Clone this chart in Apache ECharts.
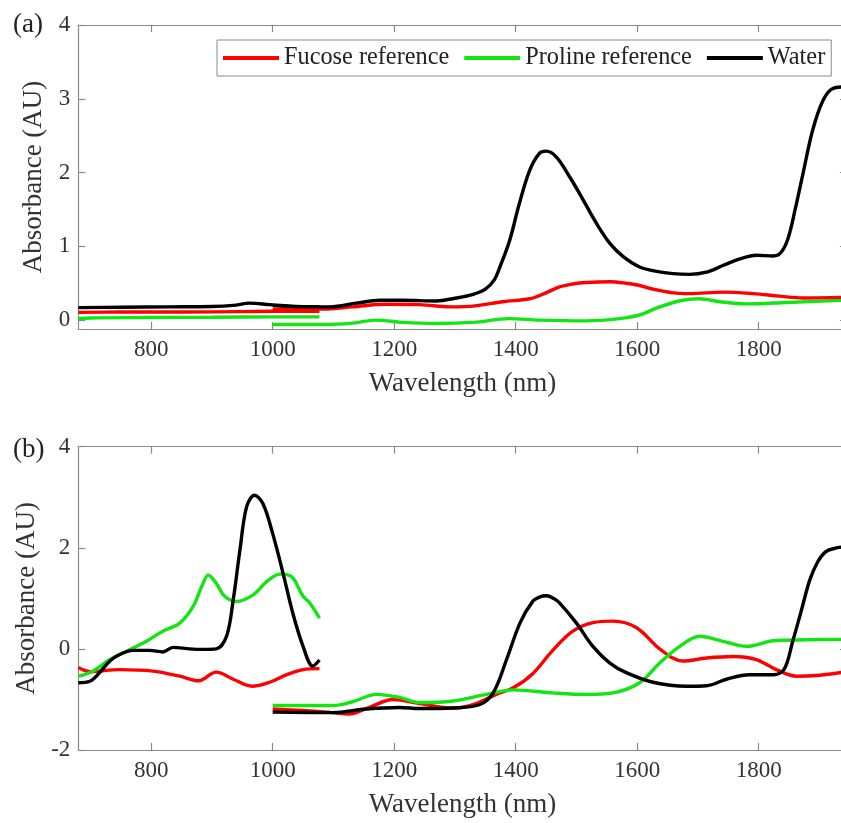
<!DOCTYPE html>
<html>
<head>
<meta charset="utf-8">
<script src="https://cdn.jsdelivr.net/npm/echarts@6/dist/echarts.min.js"></script>
<style>
html,body{margin:0;padding:0;background:#fff;}
#chart{width:841px;height:823px;}
</style>
</head>
<body>
<div id="chart"></div>
<script>
// ---------- Data ----------
const seriesNames = ['Fucose reference', 'Proline reference', 'Water'];
const xTicks = [800, 1000, 1200, 1400, 1600, 1800];
const yTicksA = [0, 1, 2, 3, 4];
const yTicksB = [-2, 0, 2, 4];

// Panel (a), first detector segment (680-1080 nm)
const wlA_fuc1 = [680, 750, 850, 950, 1000, 1040, 1077];
const abA_fuc1 = [0.105, 0.11, 0.11, 0.115, 0.12, 0.12, 0.12];
const wlA_pro1 = [680, 700, 800, 900, 1000, 1077];
const abA_pro1 = [0.02, 0.03, 0.035, 0.04, 0.045, 0.045];
const wlA_wat1 = [680, 750, 830, 900, 935, 962, 995, 1030, 1077];
const abA_wat1 = [0.17, 0.175, 0.18, 0.185, 0.2, 0.23, 0.21, 0.19, 0.18];

// Panel (a), second detector segment (1000-1940 nm)
const wlA_fuc2 = [1000, 1083, 1132, 1187, 1242, 1293, 1330, 1379, 1423, 1447, 1472, 1494, 1516, 1555, 1582, 1604, 1626, 1659, 1686, 1741, 1791, 1834, 1873, 1940];
const abA_fuc2 = [0.15, 0.15, 0.18, 0.215, 0.21, 0.18, 0.19, 0.25, 0.29, 0.36, 0.45, 0.49, 0.51, 0.52, 0.50, 0.47, 0.42, 0.37, 0.36, 0.38, 0.36, 0.325, 0.30, 0.31];
const wlA_pro2 = [1000, 1083, 1132, 1170, 1214, 1269, 1330, 1390, 1439, 1516, 1571, 1604, 1637, 1675, 1703, 1736, 1780, 1846, 1940];
const abA_pro2 = [-0.06, -0.06, -0.04, 0.0, -0.03, -0.045, -0.03, 0.02, 0.0, -0.01, 0.02, 0.07, 0.18, 0.27, 0.29, 0.25, 0.22, 0.24, 0.27];
const wlA_wat2 = [1000, 1050, 1094, 1138, 1176, 1214, 1269, 1302, 1330, 1350, 1365, 1374, 1390, 1406, 1423, 1439, 1450, 1467, 1489, 1511, 1533, 1555, 1577, 1604, 1632, 1659, 1686, 1714, 1741, 1769, 1796, 1824, 1836, 1848, 1860, 1873, 1889, 1906, 1922, 1940];
const abA_wat2 = [0.2, 0.18, 0.18, 0.23, 0.27, 0.27, 0.26, 0.3, 0.35, 0.42, 0.55, 0.72, 1.08, 1.58, 2.03, 2.26, 2.29, 2.21, 1.94, 1.63, 1.31, 1.04, 0.86, 0.72, 0.66, 0.63, 0.62, 0.65, 0.74, 0.83, 0.88, 0.87, 0.91, 1.1, 1.5, 1.99, 2.58, 2.98, 3.14, 3.16];

// Panel (b), first segment
const wlB_fuc1 = [680, 699, 748, 803, 847, 878, 907, 935, 966, 995, 1023, 1050, 1077];
const abB_fuc1 = [-0.37, -0.45, -0.41, -0.44, -0.54, -0.63, -0.46, -0.60, -0.74, -0.66, -0.51, -0.41, -0.39];
const wlB_pro1 = [680, 704, 732, 759, 792, 819, 847, 869, 883, 894, 907, 921, 940, 968, 990, 1012, 1031, 1050, 1061, 1077];
const abB_pro1 = [-0.54, -0.44, -0.21, -0.05, 0.15, 0.35, 0.51, 0.84, 1.23, 1.46, 1.30, 1.04, 0.94, 1.07, 1.33, 1.48, 1.43, 1.04, 0.91, 0.61];
const wlB_wat1 = [680, 699, 715, 732, 748, 770, 797, 819, 836, 863, 885, 907, 924, 935, 946, 957, 970, 984, 1000, 1017, 1033, 1050, 1066, 1077];
const abB_wat1 = [-0.67, -0.64, -0.47, -0.24, -0.11, -0.03, -0.03, -0.06, 0.03, 0.0, -0.01, 0.0, 0.25, 0.97, 1.95, 2.81, 3.04, 2.87, 2.28, 1.50, 0.71, 0.05, -0.34, -0.22];

// Panel (b), second segment
const wlB_fuc2 = [1000, 1050, 1099, 1126, 1160, 1198, 1242, 1297, 1330, 1368, 1396, 1428, 1461, 1494, 1527, 1560, 1599, 1637, 1675, 1714, 1758, 1796, 1829, 1862, 1900, 1940];
const abB_fuc2 = [-1.19, -1.22, -1.26, -1.29, -1.15, -1.0, -1.08, -1.17, -1.10, -0.90, -0.77, -0.49, -0.03, 0.35, 0.52, 0.55, 0.42, 0.0, -0.24, -0.18, -0.15, -0.21, -0.41, -0.54, -0.52, -0.46];
const wlB_pro2 = [1000, 1099, 1130, 1171, 1209, 1242, 1297, 1352, 1396, 1461, 1516, 1560, 1604, 1637, 1670, 1703, 1741, 1780, 1824, 1878, 1940];
const abB_pro2 = [-1.12, -1.12, -1.05, -0.90, -0.96, -1.06, -1.03, -0.90, -0.81, -0.87, -0.90, -0.87, -0.67, -0.28, 0.05, 0.25, 0.15, 0.05, 0.16, 0.18, 0.19];
const wlB_wat2 = [1000, 1099, 1154, 1209, 1242, 1297, 1341, 1363, 1385, 1407, 1428, 1440, 1451, 1462, 1472, 1500, 1527, 1555, 1582, 1626, 1681, 1714, 1747, 1785, 1824, 1842, 1856, 1870, 1884, 1897, 1910, 1925, 1940];
const abB_wat2 = [-1.25, -1.26, -1.19, -1.16, -1.18, -1.17, -1.10, -0.87, -0.21, 0.51, 0.94, 1.03, 1.05, 1.0, 0.91, 0.51, 0.05, -0.28, -0.47, -0.66, -0.74, -0.73, -0.60, -0.51, -0.51, -0.40, 0.15, 0.75, 1.36, 1.72, 1.92, 1.99, 2.02];

// ---------- Styling ----------
const FONT = '"Liberation Serif", "Times New Roman", serif';
const AXIS_C = '#8a8a8a';
const TEXT_C = '#333333';
const COLORS = { 'Fucose reference': '#ff0000', 'Proline reference': '#12e612', 'Water': '#000000' };
const X_MIN = 680, X_MAX = 1945;
const PX_PER_NM = 0.6075;
const GRID_LEFT = 78.3;
const GRID_W = (X_MAX - X_MIN) * PX_PER_NM;

function zip(xs, ys) { return xs.map((x, i) => [x, ys[i]]); }
const plainNum = v => String(v);

function xAxes(gridIndex, withName) {
  const common = {
    type: 'value', gridIndex: gridIndex, min: X_MIN, max: X_MAX,
    axisLine: { show: true, onZero: false, lineStyle: { color: AXIS_C, width: 1.2 } },
    axisTick: { show: true, inside: true, length: 7, customValues: xTicks, lineStyle: { color: AXIS_C, width: 1.2 } },
    splitLine: { show: false }
  };
  return [
    Object.assign({}, common, {
      position: 'bottom',
      axisLabel: { show: true, customValues: xTicks, formatter: plainNum, margin: 9, fontFamily: FONT, fontSize: 23, color: TEXT_C },
      name: withName ? 'Wavelength (nm)' : '', nameLocation: 'middle', nameGap: 41,
      nameTextStyle: { fontFamily: FONT, fontSize: 27, color: TEXT_C }
    }),
    Object.assign({}, common, { position: 'top', axisLabel: { show: false } })
  ];
}

function yAxes(gridIndex, min, max, ticks) {
  const common = {
    type: 'value', gridIndex: gridIndex, min: min, max: max,
    axisLine: { show: true, onZero: false, lineStyle: { color: AXIS_C, width: 1.2 } },
    axisTick: { show: true, inside: true, length: 7, customValues: ticks, lineStyle: { color: AXIS_C, width: 1.2 } },
    splitLine: { show: false }
  };
  return [
    Object.assign({}, common, {
      position: 'left',
      axisLabel: { show: true, customValues: ticks, formatter: plainNum, margin: 8, fontFamily: FONT, fontSize: 23, color: TEXT_C },
      name: 'Absorbance (AU)', nameLocation: 'middle', nameGap: 31,
      nameTextStyle: { fontFamily: FONT, fontSize: 27, color: TEXT_C }
    }),
    Object.assign({}, common, { position: 'right', axisLabel: { show: false } })
  ];
}

function lineSeries(name, xs, ys, axisIdx) {
  return {
    name: name, type: 'line', xAxisIndex: axisIdx, yAxisIndex: axisIdx,
    data: zip(xs, ys), showSymbol: false, symbol: 'none', smooth: 0.35,
    color: COLORS[name],
    lineStyle: { color: COLORS[name], width: 3.4 },
    clip: true, animation: false
  };
}

const series = [
  lineSeries('Proline reference', wlA_pro1, abA_pro1, 0),
  lineSeries('Fucose reference', wlA_fuc1, abA_fuc1, 0),
  lineSeries('Water', wlA_wat1, abA_wat1, 0),
  lineSeries('Proline reference', wlA_pro2, abA_pro2, 0),
  lineSeries('Fucose reference', wlA_fuc2, abA_fuc2, 0),
  lineSeries('Water', wlA_wat2, abA_wat2, 0),
  lineSeries('Fucose reference', wlB_fuc1, abB_fuc1, 2),
  lineSeries('Proline reference', wlB_pro1, abB_pro1, 2),
  lineSeries('Water', wlB_wat1, abB_wat1, 2),
  lineSeries('Fucose reference', wlB_fuc2, abB_fuc2, 2),
  lineSeries('Proline reference', wlB_pro2, abB_pro2, 2),
  lineSeries('Water', wlB_wat2, abB_wat2, 2)
];

const chart = echarts.init(document.getElementById('chart'), null, { renderer: 'canvas' });
chart.setOption({
  backgroundColor: '#ffffff',
  animation: false,
  grid: [
    { left: GRID_LEFT, top: 25, width: GRID_W, height: 304, containLabel: false, outerBoundsMode: 'none' },
    { left: GRID_LEFT, top: 446.7, width: GRID_W, height: 303.3, containLabel: false, outerBoundsMode: 'none' }
  ],
  xAxis: xAxes(0, true).concat(xAxes(1, true)),
  yAxis: yAxes(0, -0.12, 4, yTicksA).concat(yAxes(1, -2, 4, yTicksB)),
  legend: {
    data: seriesNames,
    left: 217, top: 40,
    orient: 'horizontal',
    icon: 'rect', itemWidth: 56, itemHeight: 4, itemGap: 15,
    padding: [6, 6, 6, 6],
    borderColor: AXIS_C, borderWidth: 1, backgroundColor: '#ffffff',
    textStyle: { fontFamily: FONT, fontSize: 24.3, color: '#222' },
    selectedMode: false
  },
  graphic: [
    { type: 'text', left: 13, top: 11, style: { text: '(a)', fontFamily: FONT, fontSize: 27, fill: '#222' } },
    { type: 'text', left: 13, top: 436, style: { text: '(b)', fontFamily: FONT, fontSize: 27, fill: '#222' } }
  ],
  series: series
});
</script>
</body>
</html>
